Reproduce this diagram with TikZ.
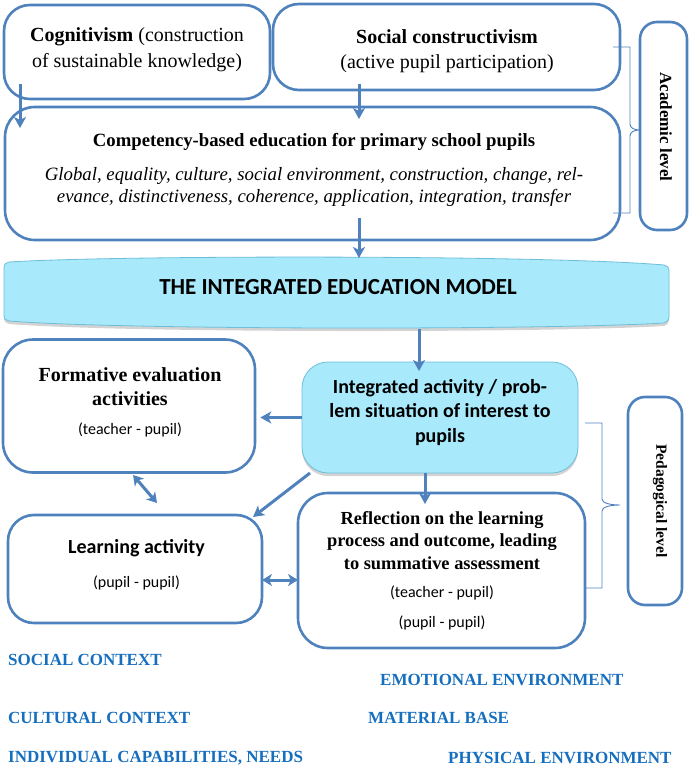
\documentclass[tikz,border=0pt]{standalone}
\usepackage{fontspec}
\setmainfont{Liberation Serif}
\newfontfamily\carl{Carlito}
\usetikzlibrary{arrows.meta,shadows,calc}
\definecolor{bb}{RGB}{79,129,189}
\definecolor{cy}{RGB}{168,233,251}
\definecolor{cyb}{RGB}{110,190,218}
\definecolor{ctx}{RGB}{22,110,190}
\begin{document}
\begin{tikzpicture}[x=1pt,y=-1pt,
  box/.style={draw=bb, line width=2.6pt, rounded corners=26pt, inner sep=0pt},
  cybox/.style={draw=cyb, line width=0.8pt, fill=cy, drop shadow={shadow xshift=0pt,shadow yshift=-3pt,opacity=0.35}},
  txt/.style={inner sep=0pt, align=center},
  arr/.style={draw=bb, line width=3pt, -{Stealth[length=11pt,width=12pt,inset=3pt]}},
  darr/.style={draw=bb, line width=3pt, {Stealth[length=10pt,width=12pt,inset=3pt]}-{Stealth[length=10pt,width=12pt,inset=3pt]}},
  brk/.style={draw=bb, line width=0.9pt},
  lvl/.style={draw=bb, line width=2.6pt, rounded corners=17pt, inner sep=0pt},
  ctxl/.style={anchor=west, inner sep=0pt, text=ctx, font=\fontsize{17}{20}\selectfont\bfseries},
]
\useasboundingbox (0,0) rectangle (690,770);

% top boxes
\node[box, minimum width=266pt, minimum height=94pt] (cog) at (137,52) {};
\node[txt, font=\fontsize{20}{26}\selectfont] (cogt) at (137,50) {\textbf{Cognitivism} (construction\\of sustainable knowledge)};
\node[box, minimum width=347pt, minimum height=86pt] (soc) at (446.5,47) {};
\node[txt, font=\fontsize{20}{25}\selectfont] (soct) at (447,51) {\textbf{Social constructivism}\\(active pupil participation)};

\node[box, rounded corners=30pt, minimum width=615pt, minimum height=133pt] (comp) at (312.5,173.5) {};
\node[txt, font=\fontsize{18.7}{21}\selectfont\bfseries] (compt) at (314,142) {Competency-based education for primary school pupils};
\node[txt, font=\fontsize{18.8}{22}\selectfont\itshape] (compi) at (314,187) {Global, equality, culture, social environment, construction, change, rel-\\evance, distinctiveness, coherence, application, integration, transfer};

% academic level
\node[lvl, minimum width=47pt, minimum height=208pt] (lvlA) at (663.5,126) {};
\node[rotate=-90, inner sep=0pt, font=\fontsize{17}{20}\selectfont\bfseries] (acad) at (666,127) {Academic level};
\draw[brk] (613,47) -- (630,47) -- (630,124) .. controls (630,128) and (634,130) .. (640,130) .. controls (634,130) and (630,132) .. (630,136) -- (630,213) -- (613,213);

% banner
\path[draw=cyb, line width=0.8pt, fill=cy, drop shadow={shadow xshift=0pt,shadow yshift=-3pt,opacity=0.35}]
  (4,268) .. controls (4,264) and (6,262.5) .. (9,262)
  .. controls (120,255) and (550,255) .. (664,265)
  .. controls (667,265.5) and (669,267) .. (669,271) -- (669,317)
  .. controls (669,320) and (667,322.5) .. (664,323)
  .. controls (550,330) and (120,330) .. (9,321)
  .. controls (6,320.5) and (4,319) .. (4,315) -- cycle;
\node[inner sep=0pt, font=\carl\bfseries\fontsize{23}{26}\selectfont] (model) at (338,287) {THE INTEGRATED EDUCATION MODEL};

% lower boxes
\node[box, rounded corners=30pt, minimum width=252pt, minimum height=133pt] (form) at (129,406) {};
\node[txt, font=\fontsize{20}{24}\selectfont\bfseries] (formt) at (130,387) {Formative evaluation\\activities};
\node[txt, font=\carl\fontsize{16}{19}\selectfont] (formp) at (130,430) {(teacher - pupil)};

\node[cybox, rounded corners=26pt, minimum width=276pt, minimum height=111pt] (int) at (440,417.5) {};
\node[txt, font=\carl\bfseries\fontsize{20}{24.5}\selectfont] (intt) at (440,412.5) {Integrated activity / prob-\\lem situation of interest to\\pupils};

\node[box, rounded corners=26pt, minimum width=254pt, minimum height=108pt] (learn) at (135,569) {};
\node[txt, font=\carl\bfseries\fontsize{20}{24}\selectfont] (learnt) at (136.5,548) {Learning activity};
\node[txt, font=\carl\fontsize{16}{19}\selectfont] (learnp) at (136.5,583) {(pupil - pupil)};

\node[box, rounded corners=30pt, minimum width=287pt, minimum height=155pt] (refl) at (441.5,570.5) {};
\node[txt, font=\fontsize{18.4}{22.5}\selectfont\bfseries] (reflt) at (442,540.5) {Reflection on the learning\\process and outcome, leading\\to summative assessment};
\node[txt, font=\carl\fontsize{16}{19}\selectfont] (reflp1) at (442,593) {(teacher - pupil)};
\node[txt, font=\carl\fontsize{16}{19}\selectfont] (reflp2) at (442,623) {(pupil - pupil)};

% pedagogical level
\node[lvl, minimum width=54pt, minimum height=208pt] (lvlP) at (655,501) {};
\node[rotate=-90, inner sep=0pt, font=\fontsize{15.5}{18}\selectfont\bfseries] (peda) at (660,501) {Pedagogical level};
\draw[brk] (585,423) -- (602,423) -- (602,499) .. controls (602,503) and (610,505) .. (620,505) .. controls (610,505) and (602,507) .. (602,511) -- (602,588) -- (585,588);

% arrows
\coordinate (a1s) at (20,84);   \coordinate (a1e) at (20,128);
\coordinate (a2s) at (359,84);  \coordinate (a2e) at (359,119);
\coordinate (a3s) at (359,218); \coordinate (a3e) at (359,258);
\coordinate (a4s) at (419,329); \coordinate (a4e) at (419,371);
\coordinate (a6s) at (310,473); \coordinate (a6e) at (253,517);
\coordinate (a7s) at (425,473); \coordinate (a7e) at (425,504);
\coordinate (d1s) at (133,475); \coordinate (d1e) at (157,503);
\coordinate (d2s) at (262,580); \coordinate (d2e) at (298,580);
\draw[arr] (a1s) -- (a1e);
\draw[arr] (a2s) -- (a2e);
\draw[arr] (a3s) -- (a3e);
\draw[arr] (a4s) -- (a4e);
\draw[arr, shorten >=4pt] (int.west) -- (int.west -| form.east);
\draw[arr] (a6s) -- (a6e);
\draw[arr] (a7s) -- (a7e);
\draw[darr] (d1s) -- (d1e);
\draw[darr] (d2s) -- (d2e);

% context labels
\node[ctxl] (l1) at (8,660) {SOCIAL CONTEXT};
\node[ctxl] (l2) at (380,680) {EMOTIONAL ENVIRONMENT};
\node[ctxl] (l3) at (8,718) {CULTURAL CONTEXT};
\node[ctxl] (l4) at (368,718) {MATERIAL BASE};
\node[ctxl] (l5) at (8,758) {INDIVIDUAL CAPABILITIES, NEEDS};
\node[ctxl] (l6) at (448,758) {PHYSICAL ENVIRONMENT};
\end{tikzpicture}
\end{document}
